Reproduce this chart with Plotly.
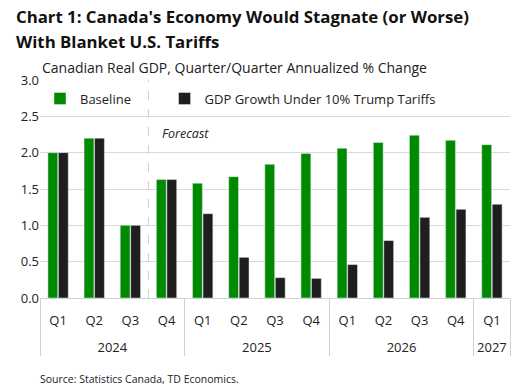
import plotly.graph_objects as go

years = ["2024"]*4 + ["2025"]*4 + ["2026"]*4 + ["2027"]
quarters = ["Q1","Q2","Q3","Q4","Q1","Q2","Q3","Q4","Q1","Q2","Q3","Q4","Q1"]
baseline = [2.0, 2.2, 1.0, 1.63, 1.58, 1.67, 1.84, 1.99, 2.06, 2.14, 2.24, 2.17, 2.11]
tariff = [2.0, 2.2, 1.0, 1.63, 1.16, 0.56, 0.28, 0.27, 0.46, 0.79, 1.11, 1.22, 1.29]
y_ticks = [0.0, 0.5, 1.0, 1.5, 2.0, 2.5, 3.0]

FONT = "Open Sans"
# blank second line on quarter labels pushes the year row down, as in the reference
x = [years, [q + "<br> " for q in quarters]]

fig = go.Figure()
fig.add_trace(go.Bar(x=x, y=baseline, name="Baseline", marker_color="#008a00", legend="legend"))
fig.add_trace(go.Bar(x=x, y=tariff, name="GDP Growth Under 10% Trump Tariffs", marker_color="#1e1e1e", legend="legend2"))

leg_common = dict(orientation="h", yanchor="middle", xanchor="left",
                  font=dict(size=13, family=FONT, color="#222"),
                  bgcolor="rgba(0,0,0,0)", itemwidth=30)

fig.update_layout(
    width=516, height=385,
    margin=dict(l=40, r=6, t=80, b=87),
    paper_bgcolor="white", plot_bgcolor="white",
    font=dict(family=FONT, color="#222", size=12),
    barmode="group", bargap=0.42, bargroupgap=0.06,
    showlegend=True,
    legend=dict(x=0.0, y=0.915, **leg_common),
    legend2=dict(x=0.265, y=0.915, **leg_common),
)
fig.update_yaxes(range=[0, 3.0], tickvals=y_ticks, tickformat=".1f",
                 showgrid=True, gridcolor="#d9d9d9", gridwidth=1,
                 zeroline=False, showline=False, ticks="",
                 tickfont=dict(size=13, color="#222"))
fig.update_xaxes(type="multicategory", showgrid=False, showline=True, linecolor="#d0d0d0",
                 showdividers=True, dividercolor="#d0d0d0", dividerwidth=1,
                 ticks="", ticklabelstandoff=10, tickfont=dict(size=13, color="#222"))

fig.add_shape(type="line", xref="x domain", yref="paper", x0=3/13, x1=3/13, y0=0, y1=1,
              line=dict(color="#cfcfcf", width=1, dash="dash"))
fig.add_annotation(text="<i>Forecast</i>", xref="x domain", yref="y", x=3/13 + 0.025, y=2.27,
                   xanchor="left", yanchor="middle", showarrow=False,
                   font=dict(size=12.5, family=FONT, color="#222"))
fig.add_annotation(text="<b>Chart 1: Canada's Economy Would Stagnate (or Worse)</b>",
                   xref="paper", yref="paper", x=-0.055, y=1.0 + 64/218, xanchor="left", yanchor="middle",
                   showarrow=False, font=dict(size=16.8, family=FONT, color="#111"))
fig.add_annotation(text="<b>With Blanket U.S. Tariffs</b>",
                   xref="paper", yref="paper", x=-0.055, y=1.0 + 38/218, xanchor="left", yanchor="middle",
                   showarrow=False, font=dict(size=16.8, family=FONT, color="#111"))
fig.add_annotation(text="Canadian Real GDP, Quarter/Quarter Annualized % Change",
                   xref="paper", yref="paper", x=0.0, y=1.0 + 13/218, xanchor="left", yanchor="middle",
                   showarrow=False, font=dict(size=14, family=FONT, color="#222"))
fig.add_annotation(text="Source: Statistics Canada, TD Economics.",
                   xref="paper", yref="paper", x=-0.005, y=-81/218, xanchor="left", yanchor="middle",
                   showarrow=False, font=dict(size=10.5, family=FONT, color="#222"))

fig.write_html("out.html", config={"displayModeBar": False},
               post_script="document.body.style.margin='0';")
